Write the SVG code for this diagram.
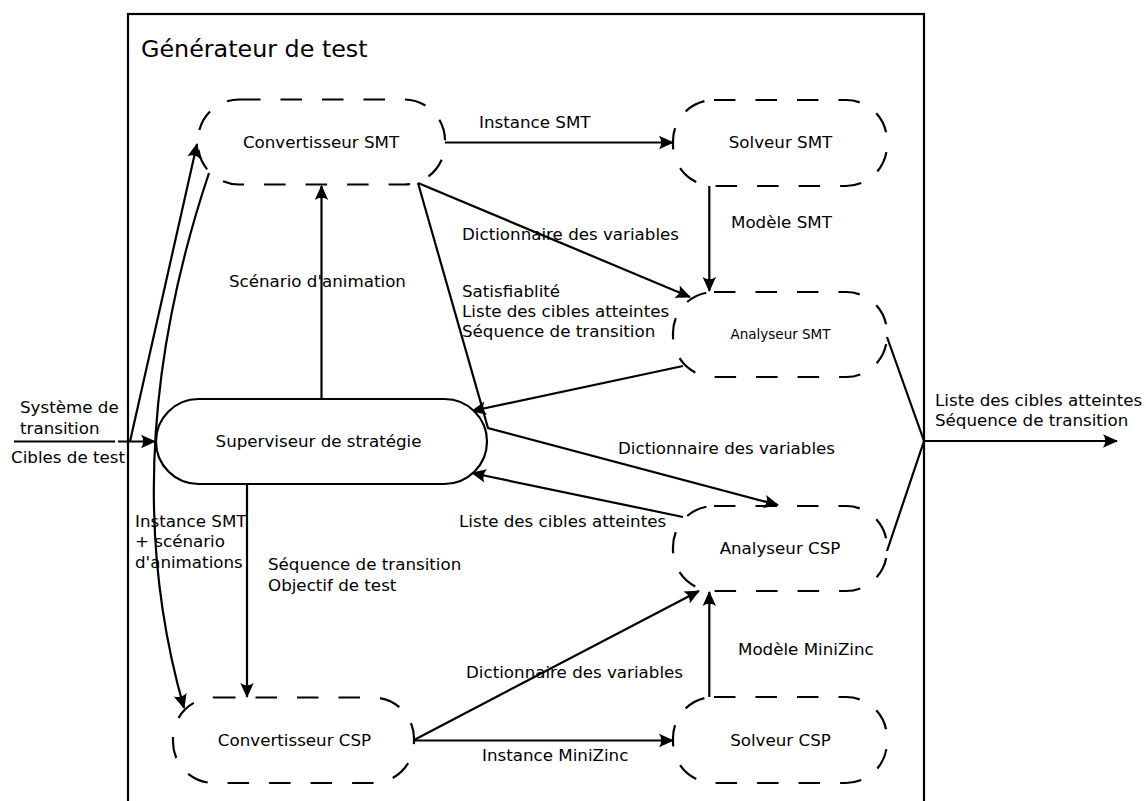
<svg xmlns="http://www.w3.org/2000/svg" width="1146" height="801" viewBox="0 0 1146 801">
<defs>
<style>
text{font-family:"DejaVu Sans",sans-serif;font-size:16.7px;fill:#000}
.c{text-anchor:middle}
.dn{fill:none;stroke:#000;stroke-width:2.2;stroke-dasharray:21.5 20}
.sn{fill:#fff;stroke:#000;stroke-width:2.2}
.ln{fill:none;stroke:#000;stroke-width:2.2}
.ar{marker-end:url(#ah)}
</style>
<marker id="ah" viewBox="0 0 16 16" refX="14.5" refY="8" markerWidth="16" markerHeight="16" markerUnits="userSpaceOnUse" orient="auto">
<path d="M15.5,8 L0.5,1.3 Q5,8 0.5,14.7 Z" fill="#000"/>
</marker>
</defs>
<rect width="1146" height="801" fill="#fff"/>
<g id="generateur">
<rect x="128" y="14" width="796" height="800" fill="none" stroke="#000" stroke-width="2.2"/>
<text x="141" y="57" style="font-size:23.8px">Générateur de test</text>
</g>
<g id="connectors">
<line class="ln" x1="14" y1="441.5" x2="115" y2="441.5"/>
<line class="ln ar" x1="118" y1="441.5" x2="155" y2="441.5"/>
<line class="ln ar" x1="130" y1="441.5" x2="197" y2="144"/>
<path class="ln ar" d="M209,173 Q113,460 184,708"/>
<line class="ln ar" x1="321.5" y1="399" x2="321.5" y2="186"/>
<line class="ln ar" x1="247" y1="484" x2="247" y2="697"/>
<line class="ln ar" x1="445" y1="142.5" x2="673" y2="142.5"/>
<line class="ln ar" x1="709.3" y1="186" x2="709.3" y2="291"/>
<line class="ln ar" x1="418" y1="183" x2="690" y2="297"/>
<polyline class="ln ar" points="418,183 488,428 778,505"/>
<line class="ln ar" x1="683" y1="366" x2="472" y2="411"/>
<line class="ln ar" x1="683" y1="517" x2="472" y2="473"/>
<line class="ln ar" x1="414" y1="740" x2="699" y2="591"/>
<line class="ln ar" x1="414" y1="740.5" x2="673" y2="740.5"/>
<line class="ln ar" x1="709.3" y1="697" x2="709.3" y2="592"/>
<polyline class="ln" points="887,337 924,441 887,551"/>
<line class="ln ar" x1="924" y1="441" x2="1117" y2="441"/>
</g>
<g id="labels">
<text x="20" y="413">Système de</text>
<text x="20" y="434">transition</text>
<text x="11" y="463">Cibles de test</text>
<text x="479" y="128">Instance SMT</text>
<text x="731" y="228">Modèle SMT</text>
<text x="462" y="240">Dictionnaire des variables</text>
<text x="229" y="287">Scénario d'animation</text>
<text x="462" y="297">Satisfiablité</text>
<text x="462" y="317">Liste des cibles atteintes</text>
<text x="462" y="337">Séquence de transition</text>
<text x="618" y="454">Dictionnaire des variables</text>
<text x="459" y="527">Liste des cibles atteintes</text>
<text x="135" y="527">Instance SMT</text>
<text x="135" y="547">+ scénario</text>
<text x="135" y="568">d'animations</text>
<text x="268" y="570">Séquence de transition</text>
<text x="268" y="591">Objectif de test</text>
<text x="738" y="655">Modèle MiniZinc</text>
<text x="466" y="678">Dictionnaire des variables</text>
<text x="482" y="761">Instance MiniZinc</text>
<text x="935" y="406">Liste des cibles atteintes</text>
<text x="935" y="426">Séquence de transition</text>
</g>
<g id="convertisseur-smt">
<rect class="dn" x="198" y="99.5" width="247" height="85" rx="41" ry="41"/>
<text class="c" x="321" y="148">Convertisseur SMT</text>
</g>
<g id="solveur-smt">
<rect class="dn" x="673" y="100" width="214" height="86" rx="41" ry="41"/>
<text class="c" x="780.5" y="148">Solveur SMT</text>
</g>
<g id="analyseur-smt">
<rect class="dn" x="673" y="292" width="214" height="85" rx="41" ry="41"/>
<text class="c" x="780.5" y="339" style="font-size:13.5px">Analyseur SMT</text>
</g>
<g id="superviseur">
<rect class="sn" x="156" y="399" width="331" height="85" rx="42.5" ry="42.5"/>
<text class="c" x="318.5" y="447">Superviseur de stratégie</text>
</g>
<g id="analyseur-csp">
<rect class="dn" x="673" y="506" width="214" height="85" rx="41" ry="41"/>
<text class="c" x="780" y="554">Analyseur CSP</text>
</g>
<g id="convertisseur-csp">
<rect class="dn" x="173" y="697.5" width="241" height="85.5" rx="41" ry="41"/>
<text class="c" x="294.5" y="746">Convertisseur CSP</text>
</g>
<g id="solveur-csp">
<rect class="dn" x="673" y="697" width="214" height="86" rx="41" ry="41"/>
<text class="c" x="780.5" y="746">Solveur CSP</text>
</g>
</svg>
